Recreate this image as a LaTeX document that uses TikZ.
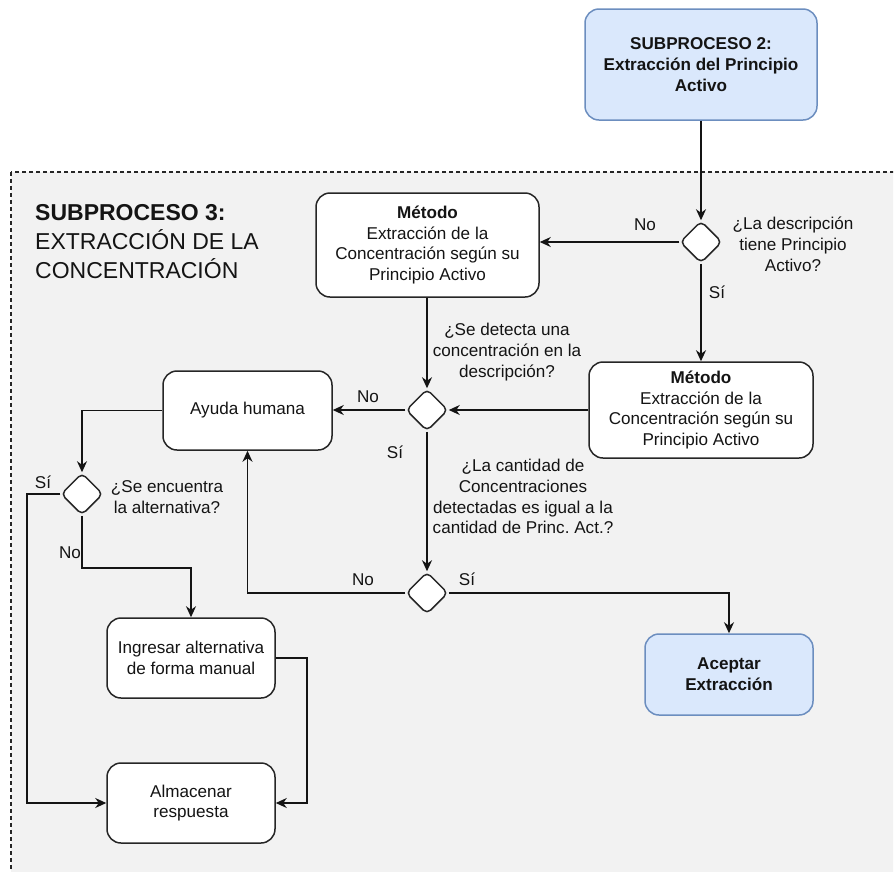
\documentclass[tikz,border=0pt]{standalone}
\usepackage{fontspec}
\setmainfont{Liberation Sans}
\usetikzlibrary{shapes.geometric,arrows.meta}
\frenchspacing
\definecolor{ink}{HTML}{141414}
\definecolor{edge}{HTML}{262626}
\definecolor{panel}{HTML}{F2F2F2}
\definecolor{bluefill}{HTML}{DAE8FC}
\definecolor{bluedraw}{HTML}{6C8EBF}
\tikzset{
  body/.style={font=\fontsize{17.1}{20.8}\selectfont, text=ink},
  procbox/.style={body, rectangle, rounded corners=14pt, draw=edge, fill=white,
    line width=1.5pt, align=center, inner sep=0pt},
  bluebox/.style={procbox, fill=bluefill, draw=bluedraw, font=\fontsize{17.1}{20.8}\selectfont\bfseries},
  decision/.style={diamond, aspect=1, minimum width=42pt, minimum height=42pt,
    inner sep=0pt, rounded corners=5pt, draw=edge, fill=white, line width=1.5pt},
  lbl/.style={body, align=center, inner sep=0pt},
  conn/.style={draw=ink, line width=1.5pt, -{Stealth[length=11pt,width=10pt,inset=3.5pt]}},
}
\begin{document}
\begin{tikzpicture}[x=1pt,y=-1pt]
\useasboundingbox (0,0) rectangle (895,871);

% shaded sub-process panel with dashed frame
\begin{scope}
  \clip (0,0) rectangle (893,871);
  \draw[draw=edge, fill=panel, line width=1.2pt, dash pattern=on 4pt off 3pt]
    (11,172) rectangle (905,885);
\end{scope}

% panel title
\node[anchor=west, align=left, inner sep=0pt, text=ink,
      font=\fontsize{23}{29}\selectfont] (title) at (35,242)
  {\textbf{SUBPROCESO 3:}\\EXTRACCIÓN DE LA\\CONCENTRACIÓN};

% process boxes
\node[bluebox, minimum width=232pt, minimum height=111pt] (sp2) at (701,64.5)
  {SUBPROCESO 2:\\Extracción del Principio\\Activo};
\node[procbox, minimum width=223pt, minimum height=104pt] (m1) at (427.5,245)
  {\textbf{Método}\\Extracción de la\\Concentración según su\\Principio Activo};
\node[procbox, minimum width=224pt, minimum height=96pt] (m2) at (701,410)
  {\textbf{Método}\\Extracción de la\\Concentración según su\\Principio Activo};
\node[procbox, minimum width=169pt, minimum height=79pt] (ayuda) at (247.5,410.5)
  {Ayuda humana};
\node[bluebox, minimum width=168pt, minimum height=81pt] (acep) at (729,674.5)
  {Aceptar\\Extracción};
\node[procbox, minimum width=168pt, minimum height=80pt] (ingr) at (191,658)
  {Ingresar alternativa\\de forma manual};
\node[procbox, minimum width=168pt, minimum height=80pt] (alm) at (191,803)
  {Almacenar\\respuesta};

% decisions
\node[decision] (d1) at (701,242) {};
\node[decision] (d2) at (427,410) {};
\node[decision] (d3) at (427,593) {};
\node[decision] (d4) at (82,494) {};

% bend points
\coordinate (sijog) at (27,494);
\coordinate (nojog) at (82,568);
\coordinate (rjog) at (307,658);

% connectors
\draw[conn] (sp2.south) -- (d1.north);
\draw[conn] (d1.west) -- (d1.west -| m1.east);
\draw[conn] (d1.south) -- (m2.north);
\draw[conn] (m1.south -| d2.north) -- (d2.north);
\draw[conn] (m2.west) -- (d2.east);
\draw[conn] (d2.west) -- (d2.west -| ayuda.east);
\draw[conn] (d2.south) -- (d3.north);
\draw[conn] (d3.east) -| (acep.north);
\draw[conn] (d3.west) -| (ayuda.south);
\draw[conn] (ayuda.west) -| (d4.north);
\draw[conn] (d4.west) -- (sijog) |- (alm.west);
\draw[conn] (d4.south) -- (nojog) -| (ingr.north);
\draw[conn] (ingr.east) -- (rjog) |- (alm.east);

% labels
\node[lbl] (l1) at (645,225) {No};
\node[lbl] (q1) at (793,244) {¿La descripción\\tiene Principio\\Activo?};
\node[lbl] (l2) at (717,292) {Sí};
\node[lbl] (q2) at (507,352) {¿Se detecta una\\concentración en la\\descripción?};
\node[lbl] (l3) at (368,397) {No};
\node[lbl] (l4) at (395,452) {Sí};
\node[lbl] (q3) at (523,496.5) {¿La cantidad de\\Concentraciones\\detectadas es igual a la\\cantidad de Princ. Act.?};
\node[lbl] (l5) at (467,579) {Sí};
\node[lbl] (l6) at (363,580) {No};
\node[lbl] (l7) at (43,482) {Sí};
\node[lbl] (q4) at (167,497) {¿Se encuentra\\la alternativa?};
\node[lbl] (l8) at (70,553) {No};
\end{tikzpicture}
\end{document}
